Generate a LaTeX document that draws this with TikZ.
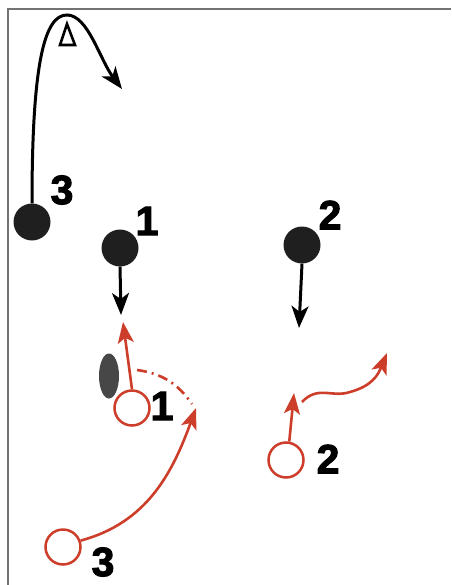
\documentclass[tikz,border=0pt]{standalone}
\usepackage{fontspec}
\newfontfamily\numfont{Liberation Sans Bold}[FakeBold=2.5]
\usepackage{tikz}
\usetikzlibrary{arrows.meta}
\usetikzlibrary{shapes.geometric}
\definecolor{playred}{RGB}{205,62,42}
\tikzstyle{defence}=[fill=black!88, circle, minimum size=37pt, inner sep=0pt]
\tikzstyle{offence}=[draw=playred, line width=2.5pt, circle, minimum size=35pt, inner sep=0pt]
\tikzstyle{num}=[font=\numfont\fontsize{41}{41}\selectfont, inner sep=0pt]
\tikzstyle{blackarrow}=[-{Stealth[length=22pt,width=17pt,inset=6pt]}, line width=3pt]
\tikzstyle{redarrow}=[-{Stealth[length=21pt,width=16pt,inset=5pt]}, line width=2.6pt, color=playred]

\begin{document}
\begin{tikzpicture}[x=1pt,y=1pt]
		\useasboundingbox (0,0) rectangle (451,-585);
		\draw[black!55, line width=1.2pt] (8,-585) -- (8,-9) -- (451,-9);
		% defence
		\node (b3)[defence] at (32,-222) {};
		\node (b1)[defence] at (120,-248) {};
		\node (b2)[defence] at (302,-245) {};
		\node (lb3)[num] at (62,-190) {3};
		\node (lb1)[num] at (147,-221) {1};
		\node (lb2)[num] at (330,-215) {2};
		% offence
		\node (r1)[offence] at (132,-408) {};
		\node (r2)[offence] at (286,-460) {};
		\node (r3)[offence] at (63,-547) {};
		\node (lr1)[num] at (162,-406) {1};
		\node (lr2)[num] at (328,-459) {2};
		\node (lr3)[num] at (103,-562) {3};
		\node (screen)[fill=black!72, ellipse, minimum width=20pt, minimum height=45pt, inner sep=0pt] at (109,-376) {};
		% moves
		\coordinate (d3) at (122,-89);
		\coordinate (d1) at (121,-315);
		\coordinate (d2) at (299,-328);
		\draw[blackarrow] (b3.north) .. controls (32,-60) and (45,-15) .. (67,-15) .. controls (88,-15) and (100,-60) .. (d3);
		\draw[line width=2.6pt, line join=miter] (67,-24) -- (60,-45) -- (75,-45) -- cycle;
		\draw[blackarrow] (b1.south) -- (d1);
		\draw[blackarrow] (b2.south) -- (d2);
		\coordinate (c1) at (123,-322);
		\coordinate (c2) at (294,-393);
		\coordinate (c3) at (196,-408);
		\coordinate (s1) at (137,-370);
		\coordinate (e1) at (192,-404);
		\coordinate (w0) at (302,-402);
		\coordinate (w1) at (387,-353);
		\draw[redarrow] (r1.north) -- (c1);
		\draw[color=playred, line width=2.6pt, dash pattern=on 10pt off 5pt on 2pt off 5pt] (s1) to[out=-8,in=125] (e1);
		\draw[redarrow] (r3.20) to[out=15,in=250] (c3);
		\draw[redarrow] (r2.80) -- (c2);
		\draw[redarrow] (w0) .. controls (318,-385) and (332,-398) .. (350,-392) .. controls (372,-386) and (378,-375) .. (w1);
\end{tikzpicture}
\end{document}
